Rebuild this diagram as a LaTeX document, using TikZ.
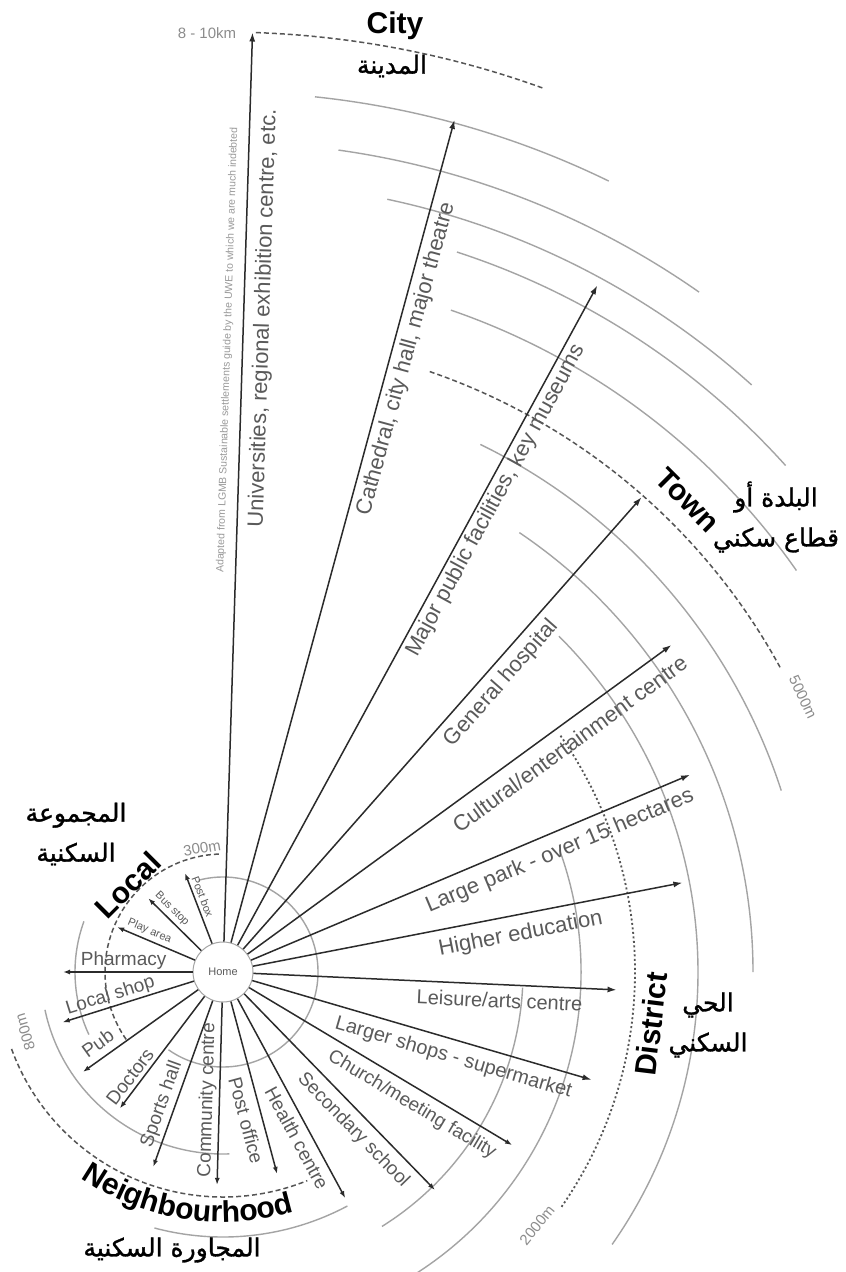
\documentclass[tikz,border=0pt]{standalone}
\usepackage{fontspec}
\setmainfont{Liberation Sans}
\newfontfamily\arabicfont[Script=Arabic, FakeBold=1.2]{DejaVu Sans}
\TeXXeTstate=1
\usetikzlibrary{arrows.meta,decorations.text}
\definecolor{raycol}{HTML}{2B2B2B}
\definecolor{arccol}{HTML}{A4A4A4}
\definecolor{dashcol}{HTML}{555555}
\definecolor{txtcol}{HTML}{5A5A5A}
\definecolor{scalecol}{HTML}{8C8C8C}
\definecolor{notecol}{HTML}{9A9A9A}
\tikzset{
 ray/.style={draw=raycol, line width=1.5pt, -{Latex[length=9pt,width=6pt]}},
 sray/.style={draw=raycol, line width=1.5pt, -{Latex[length=7pt,width=5pt]}},
 garc/.style={draw=arccol, line width=1.4pt},
 dasharc/.style={draw=dashcol, line width=1.5pt, dash pattern=on 5pt off 3pt},
 dotarc/.style={draw=dashcol, line width=1.8pt, dash pattern=on 2pt off 2.5pt},
 lbl/.style={text=txtcol, inner sep=0pt},
 big/.style={font=\fontsize{30}{32}\selectfont\bfseries, text=black, inner sep=0pt},
 arab/.style={font=\arabicfont\fontsize{25}{40}\selectfont, text=black, align=center, inner sep=0pt},
 scl/.style={font=\fontsize{15}{15}\selectfont, text=scalecol, inner sep=0pt},
 homenode/.style={circle, draw=arccol, line width=1pt, fill=white, minimum size=60pt, inner sep=0pt, font=\fontsize{11}{11}\selectfont, text=txtcol},
}
% #1 name, #2 angle, #3 distance, #4 offset, #5 size, #6 text
\newcommand\raylbl[6]{%
  \pgfmathsetmacro\rlrot{(#2>90 || #2<-90) ? #2+180 : #2}%
  \pgfmathsetmacro\rlang{#2-atan(#4/#3)}%
  \node[lbl, font=\fontsize{#5}{#5}\selectfont, rotate=\rlrot] (#1) at (\rlang:#3) {#6};}
\begin{document}
\begin{tikzpicture}[x=1pt,y=1pt]
\path[use as bounding box, fill=white] (0,0) rectangle (846,-1272);
\begin{scope}[shift={(223,-972)}]
\node[homenode] (home) at (0,0) {Home};
% grey arcs
\foreach \r/\s/\e in {95/105/-125, 148/160/205, 182/192/272, 265/-105/-62, 300/-3/-58, 358/20/-62, 475/45/-35, 530/56/0, 587/64/18, 700/71/35, 757/72/42, 790/78/48, 830/82/55, 880/84/64}
  \draw[garc] (\s:\r) arc[start angle=\s, end angle=\e, radius=\r pt];
% boundary arcs
\draw[dasharc] (92:118) arc[start angle=92, end angle=215, radius=118pt];
\draw[dasharc] (200:225) arc[start angle=200, end angle=292, radius=225pt];
\draw[dotarc] (35:412) arc[start angle=35, end angle=-35, radius=412pt];
\draw[dasharc] (71:635) arc[start angle=71, end angle=28.5, radius=635pt];
\draw[dasharc] (88:940) arc[start angle=88, end angle=70, radius=940pt];
% rays
\foreach \i/\a/\L in {1/88.2/940, 2/74.8/883, 3/61.4/782, 4/48.6/633, 5/36.1/555, 6/22.9/507, 7/11.0/468, 8/-2.6/394, 9/-16.3/384}
  {\coordinate (t\i) at (\a:\L); \draw[ray] (home) -- (t\i);}
\foreach \i/\a/\L in {10/-30.9/337, 11/-45.8/304, 12/-61.6/257, 13/-75/209, 14/-91.6/213, 15/-109.7/207, 16/-127.1/171, 17/-144.5/172, 18/-162.6/168, 19/180/160, 20/157/115, 21/135.4/105, 22/111/106}
  {\coordinate (t\i) at (\a:\L); \draw[sray] (home) -- (t\i);}
% ray labels
\raylbl{l1}{88.2}{655}{20}{22}{Universities, regional exhibition centre, etc.}
\node[lbl, text=notecol, font=\fontsize{10.5}{10.5}\selectfont, rotate=88.2] (l1b) at ({88.2+atan(15/622)}:622) {Adapted from LGMB Sustainable settlements guide by the UWE to which we are much indebted};
\raylbl{l2}{74.8}{640}{16}{22}{Cathedral, city hall, major theatre}
\raylbl{l3}{61.4}{545}{14}{22}{Major public facilities, key museums}
\raylbl{l4}{48.6}{401}{18}{22}{General hospital}
\raylbl{l5}{36.1}{415}{20}{22}{Cultural/entertainment centre}
\raylbl{l6}{22.9}{358}{20}{22}{Large park - over 15 hectares}
\raylbl{l7}{11.0}{300}{20}{22}{Higher education}
\raylbl{l8}{-2.6}{278}{16}{20}{Leisure/arts centre}
\raylbl{l9}{-16.3}{246}{18}{20}{Larger shops - supermarket}
\raylbl{l10}{-30.9}{231}{17}{19}{Church/meeting facility}
\raylbl{l11}{-45.8}{205}{17}{19}{Secondary school}
\raylbl{l12}{-61.6}{182}{14}{19}{Health centre}
\raylbl{l13}{-75}{150}{16}{19}{Post office}
\raylbl{l14}{-91.6}{129}{12}{19}{Community centre}
\raylbl{l15}{-109.7}{146}{13}{19}{Sports hall}
\raylbl{l16}{-127.1}{140}{11}{19}{Doctors}
\raylbl{l17}{-144.5}{144}{15}{19}{Pub}
\raylbl{l18}{-162.6}{115}{11}{19}{Local shop}
\raylbl{l19}{180}{100}{11}{19}{Pharmacy}
\raylbl{l20}{157}{84}{9}{11}{Play area}
\raylbl{l21}{135.4}{81}{9}{11}{Bus stop}
\raylbl{l22}{111}{78}{8}{11}{Post box}
% scale labels
\node[scl] (s1) at (-16,939) {8 - 10km};
\node[scl, rotate=-64.6] (s2) at (580,275) {5000m};
\node[scl, rotate=51] (s3) at (314,-253) {2000m};
\node[scl, rotate=107] (s4) at (-198,-60) {800m};
\node[scl, rotate=9.6] (s5) at (-21,124) {300m};
% zone titles
\node[big] (city) at (172,946) {City};
\node[arab] (cityar) at (169,906) {\beginR المدينة\endR};
\node[big, rotate=-45] (town) at (465,472) {Town};
\node[arab] (townar) at (553,455) {\beginR البلدة أو\endR\\\beginR قطاع سكني\endR};
\node[big, rotate=83] (district) at (428,-52) {District};
\node[arab] (districtar) at (485,-53) {\beginR الحي\endR\\\beginR السكني\endR};
\node[big, rotate=45] (local) at (-95,87) {Local};
\node[arab] (localar) at (-147,138) {\beginR المجموعة\endR\\\beginR السكنية\endR};
\path[decorate, decoration={text along path, text align=center, text={|\fontsize{30}{32}\selectfont\bfseries|Neighbourhood}}] (-132:250) arc[start angle=-132, end angle=-66, radius=250pt];
\node[arab] (neighar) at (-51,-278) {\beginR المجاورة السكنية\endR};
\end{scope}
\end{tikzpicture}
\end{document}
